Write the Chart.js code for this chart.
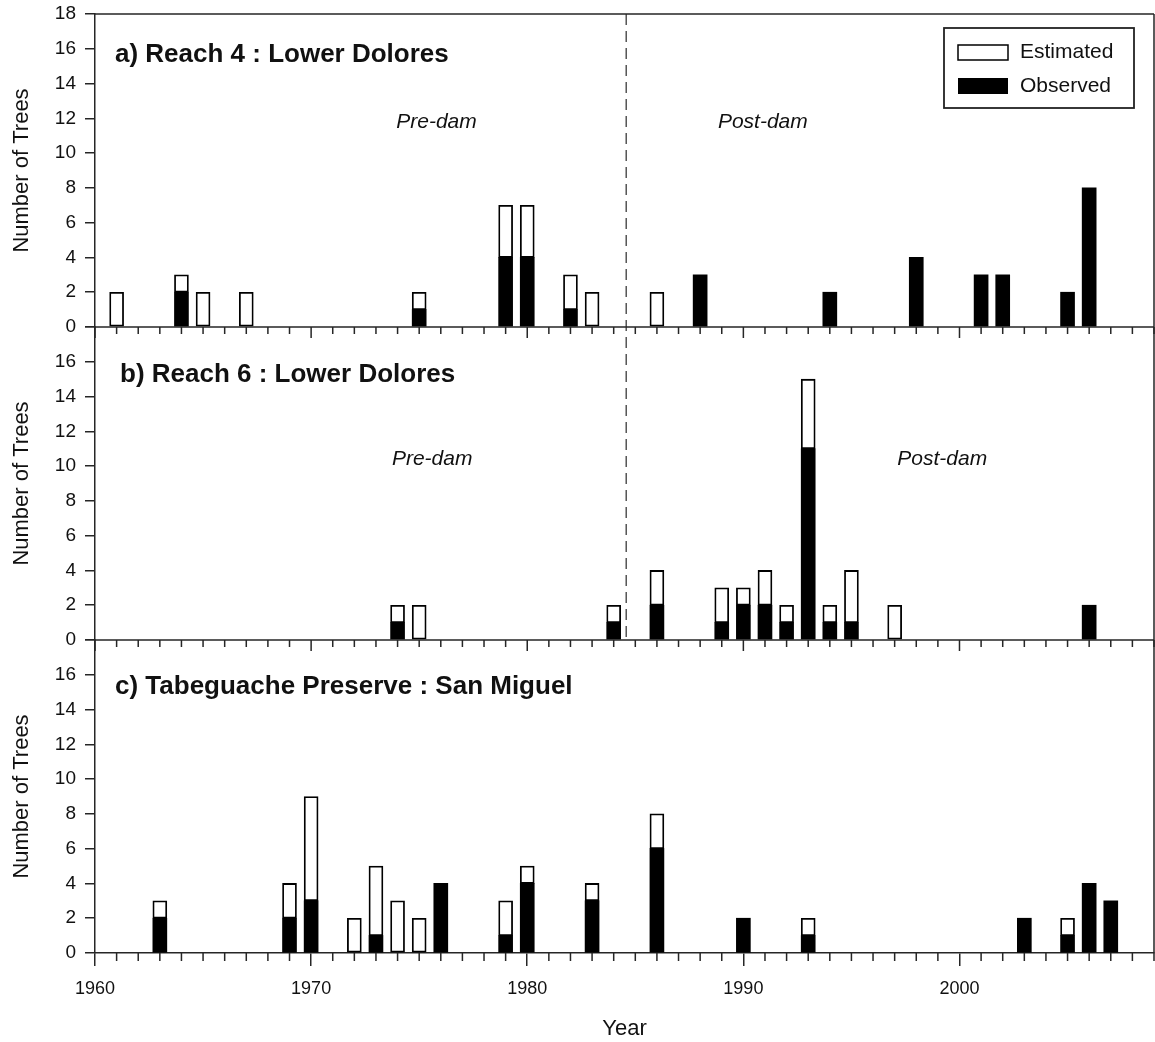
<!DOCTYPE html>
<html>
<head>
<meta charset="utf-8">
<title>Tree establishment by year</title>
<script src="https://cdn.jsdelivr.net/npm/chart.js@4.4.1/dist/chart.umd.min.js"></script>
<style>
  html, body { margin: 0; padding: 0; background: #fff; }
  #wrap { width: 1155px; height: 1042px; position: relative; }
</style>
</head>
<body>
<div id="wrap"><canvas id="treesChart"></canvas></div>
<script>
// a) Reach 4 : Lower Dolores
var reach4Years     = [1961, 1964, 1965, 1967, 1975, 1979, 1980, 1982, 1983, 1986, 1988, 1994, 1998, 2001, 2002, 2005, 2006];
var reach4Observed  = [0,    2,    0,    0,    1,    4,    4,    1,    0,    0,    3,    2,    4,    3,    3,    2,    8];
var reach4Estimated = [2,    1,    2,    2,    1,    3,    3,    2,    2,    2,    0,    0,    0,    0,    0,    0,    0];

// b) Reach 6 : Lower Dolores
var reach6Years     = [1974, 1975, 1984, 1986, 1989, 1990, 1991, 1992, 1993, 1994, 1995, 1997, 2006];
var reach6Observed  = [1,    0,    1,    2,    1,    2,    2,    1,    11,   1,    1,    0,    2];
var reach6Estimated = [1,    2,    1,    2,    2,    1,    2,    1,    4,    1,    3,    2,    0];

// c) Tabeguache Preserve : San Miguel
var tabeYears     = [1963, 1969, 1970, 1972, 1973, 1974, 1975, 1976, 1979, 1980, 1983, 1986, 1990, 1993, 2003, 2005, 2006, 2007];
var tabeObserved  = [2,    2,    3,    0,    1,    0,    0,    4,    1,    4,    3,    6,    2,    1,    2,    1,    4,    3];
var tabeEstimated = [1,    2,    6,    2,    4,    3,    2,    0,    2,    1,    1,    2,    0,    1,    0,    1,    0,    0];

var panelTitles = ['a) Reach 4 : Lower Dolores', 'b) Reach 6 : Lower Dolores', 'c) Tabeguache Preserve : San Miguel'];
var yTicks = [0, 2, 4, 6, 8, 10, 12, 14, 16, 18];
var xTickLabels = [1960, 1970, 1980, 1990, 2000];
var damYear = 1984.58;

var FONT = "'Liberation Sans', Arial, Helvetica, sans-serif";
var INK = '#262626';

function points(years, values) {
    var out = [];
    for (var i = 0; i < years.length; i++) {
        if (values[i] > 0) out.push({x: years[i], y: values[i]});
    }
    return out;
}

function observedSet(years, vals, axis) {
    return {
        label: 'Observed', yAxisID: axis, data: points(years, vals),
        backgroundColor: '#000', borderColor: '#000', borderWidth: 0
    };
}
function estimatedSet(years, vals, axis) {
    return {
        label: 'Estimated', yAxisID: axis, data: points(years, vals),
        backgroundColor: '#fff', borderColor: '#000', borderWidth: 1.8, borderSkipped: false
    };
}

function yScale(id, weight, showTop) {
    return {
        type: 'linear', stack: 'panels', position: 'left', stackWeight: 1, weight: weight,
        stacked: true, min: 0, max: 18,
        afterBuildTicks: function (s) { s.ticks = yTicks.map(function (v) { return {value: v}; }); },
        afterFit: function (s) { s.width = 95; s.paddingTop = 0; s.paddingBottom = 0; },
        ticks: {
            color: '#111', font: {family: FONT, size: 19}, padding: 9, autoSkip: false,
            callback: function (v) { return (v === 18 && !showTop) ? '' : String(v); }
        },
        grid: {drawOnChartArea: false, drawTicks: true, tickLength: 10, color: INK, lineWidth: 1.5},
        border: {display: true, color: INK, width: 1.5},
        title: {display: true, text: 'Number of Trees', color: '#111',
                font: {family: FONT, size: 22}, padding: {top: 9, bottom: 0}}
    };
}

// frame lines, minor year ticks, dam line and text inside panels
var panelDecor = {
    id: 'panelDecor',
    beforeDatasetsDraw: function (chart) {
        var ctx = chart.ctx, s = chart.scales;
        var dx = s.x.getPixelForValue(damYear);
        ctx.save();
        ctx.strokeStyle = '#555';
        ctx.lineWidth = 1.5;
        ctx.setLineDash([11, 6]);
        ctx.beginPath();
        ctx.moveTo(dx, s.ya.top);
        ctx.lineTo(dx, s.yb.bottom);
        ctx.stroke();
        ctx.restore();
    },
    afterDraw: function (chart) {
        var ctx = chart.ctx, s = chart.scales, area = chart.chartArea;
        ctx.save();
        ctx.strokeStyle = INK;
        ctx.lineWidth = 1.5;
        // box around the stacked panels
        ctx.beginPath();
        ctx.moveTo(area.left, s.ya.top); ctx.lineTo(area.right, s.ya.top);
        ctx.moveTo(area.right, s.ya.top); ctx.lineTo(area.right, s.yc.bottom);
        ctx.moveTo(area.left, s.yb.top); ctx.lineTo(area.right, s.yb.top);
        ctx.moveTo(area.left, s.yc.top); ctx.lineTo(area.right, s.yc.top);
        ctx.stroke();

        // year ticks under each panel
        ctx.beginPath();
        for (var yr = 1960; yr <= 2009; yr++) {
            var px = s.x.getPixelForValue(yr);
            var major = yr % 10 === 0;
            [s.yb.top, s.yc.top].forEach(function (y0) {
                ctx.moveTo(px, y0); ctx.lineTo(px, y0 + (major ? 11 : 7));
            });
            if (!major) { ctx.moveTo(px, s.yc.bottom); ctx.lineTo(px, s.yc.bottom + 8); }
        }
        ctx.stroke();

        // panel titles
        ctx.fillStyle = '#111';
        ctx.textBaseline = 'middle';
        ctx.textAlign = 'left';
        ctx.font = 'bold 26px ' + FONT;
        ctx.fillText(panelTitles[0], 115, s.ya.top + 41);
        ctx.fillText(panelTitles[1], 120, s.yb.top + 48);
        ctx.fillText(panelTitles[2], 115, s.yc.top + 47);

        // pre / post dam labels
        ctx.font = 'italic 21px ' + FONT;
        ctx.textAlign = 'center';
        ctx.fillText('Pre-dam', s.x.getPixelForValue(1975.8), s.ya.getPixelForValue(11.8));
        ctx.fillText('Post-dam', s.x.getPixelForValue(1990.9), s.ya.getPixelForValue(11.8));
        ctx.fillText('Pre-dam', s.x.getPixelForValue(1975.6), s.yb.getPixelForValue(10.4));
        ctx.fillText('Post-dam', s.x.getPixelForValue(1999.2), s.yb.getPixelForValue(10.4));

        // legend
        var lx = area.right - 210, ly = s.ya.top + 14;
        ctx.lineWidth = 1.8;
        ctx.strokeStyle = '#222';
        ctx.strokeRect(lx, ly, 190, 80);
        ctx.fillStyle = '#fff';
        ctx.fillRect(lx + 14, ly + 17, 50, 15);
        ctx.strokeStyle = '#000';
        ctx.lineWidth = 1.5;
        ctx.strokeRect(lx + 14, ly + 17, 50, 15);
        ctx.fillStyle = '#000';
        ctx.fillRect(lx + 14, ly + 50, 50, 16);
        ctx.fillStyle = '#111';
        ctx.textAlign = 'left';
        ctx.font = '21px ' + FONT;
        ctx.fillText('Estimated', lx + 76, ly + 24);
        ctx.fillText('Observed', lx + 76, ly + 58);
        ctx.restore();
    }
};

var ctx = document.getElementById('treesChart').getContext('2d');
var treesChart = new Chart(ctx, {
    type: 'bar',
    data: {
        datasets: [
            observedSet(reach4Years, reach4Observed, 'ya'),
            estimatedSet(reach4Years, reach4Estimated, 'ya'),
            observedSet(reach6Years, reach6Observed, 'yb'),
            estimatedSet(reach6Years, reach6Estimated, 'yb'),
            observedSet(tabeYears, tabeObserved, 'yc'),
            estimatedSet(tabeYears, tabeEstimated, 'yc')
        ]
    },
    options: {
        responsive: true,
        maintainAspectRatio: false,
        animation: false,
        devicePixelRatio: 1,
        grouped: false,
        barThickness: 14,
        layout: {padding: {left: 0, top: 14, right: 1, bottom: 0}},
        plugins: {legend: {display: false}, tooltip: {enabled: false}},
        scales: {
            x: {
                type: 'linear', min: 1960, max: 2009, offset: false,
                afterBuildTicks: function (s) { s.ticks = xTickLabels.map(function (v) { return {value: v}; }); },
                afterFit: function (s) { s.height = 89; s.paddingLeft = 0; s.paddingRight = 0; },
                ticks: {color: '#111', font: {family: FONT, size: 18}, padding: 12, maxRotation: 0, autoSkip: false,
                        callback: function (v) { return String(v); }},
                grid: {drawOnChartArea: false, drawTicks: true, tickLength: 13, color: INK, lineWidth: 1.5, offset: false},
                border: {display: true, color: INK, width: 1.5},
                title: {display: true, text: 'Year', color: '#111',
                        font: {family: FONT, size: 22}, padding: {top: 0, bottom: 0}}
            },
            ya: yScale('ya', 3, true),
            yb: yScale('yb', 2, false),
            yc: yScale('yc', 1, false)
        }
    },
    plugins: [panelDecor]
});
</script>
</body>
</html>
